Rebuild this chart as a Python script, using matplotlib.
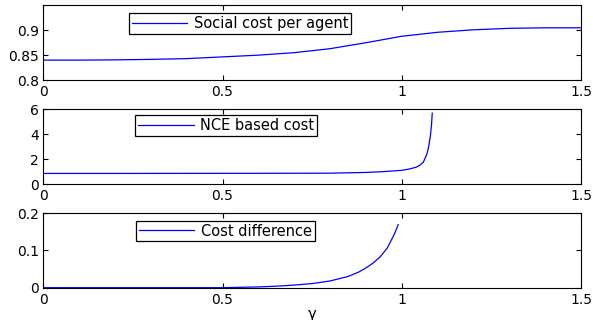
import matplotlib
matplotlib.use("Agg")
import matplotlib.pyplot as plt

# values
gamma_social = [0.0, 0.1, 0.2, 0.3, 0.4, 0.5, 0.6, 0.7, 0.8, 0.9, 1.0, 1.1, 1.2, 1.3, 1.4, 1.5]
social_cost = [0.840, 0.840, 0.8405, 0.8415, 0.843, 0.8465, 0.850, 0.855, 0.863, 0.875,
               0.888, 0.896, 0.901, 0.904, 0.905, 0.905]

gamma_nce = [0.0, 0.2, 0.4, 0.6, 0.8, 0.9, 0.95, 1.0, 1.02, 1.04, 1.05, 1.06, 1.07,
             1.075, 1.08, 1.083, 1.085]
nce_cost = [0.85, 0.85, 0.855, 0.86, 0.87, 0.93, 1.0, 1.1, 1.2, 1.35, 1.5, 1.75, 2.4,
            3.0, 3.9, 4.8, 5.7]

gamma_diff = [0.0, 0.5, 0.55, 0.6, 0.65, 0.7, 0.75, 0.8, 0.85, 0.88, 0.9, 0.92, 0.94,
              0.96, 0.98, 0.99]
cost_diff = [0.0, 0.0, 0.001, 0.002, 0.004, 0.007, 0.011, 0.018, 0.03, 0.042, 0.053,
             0.066, 0.083, 0.107, 0.145, 0.169]

x_ticks = [0, 0.5, 1, 1.5]
x_tick_labels = ["0", "0.5", "1", "1.5"]

plt.rcParams['font.family'] = ['DejaVu Sans']
plt.rcParams['font.size'] = 10

fig = plt.figure(figsize=(5.93, 3.2), dpi=100)

panels = [
    (gamma_social, social_cost, "Social cost per agent", (0.8, 0.95),
     [0.8, 0.85, 0.9], ["0.8", "0.85", "0.9"], 0.750, (0.159, 0.893)),
    (gamma_nce, nce_cost, "NCE based cost", (0, 6),
     [0, 2, 4, 6], ["0", "2", "4", "6"], 0.425, (0.171, 0.926)),
    (gamma_diff, cost_diff, "Cost difference", (0, 0.2),
     [0, 0.1, 0.2], ["0", "0.1", "0.2"], 0.101, (0.172, 0.899)),
]

axes = []
for gx, gy, label, ylim, yt, ytl, bottom, leg_pos in panels:
    ax = fig.add_axes([0.073, bottom, 0.9068, 0.233])
    ax.plot(gx, gy, color=(0, 0, 1), lw=0.9, label=label)
    ax.set_xlim(0, 1.5)
    ax.set_ylim(*ylim)
    ax.set_xticks(x_ticks)
    ax.set_xticklabels(x_tick_labels)
    ax.set_yticks(yt)
    ax.set_yticklabels(ytl)
    ax.tick_params(direction='in', length=3.6, width=0.8, top=True, right=True)
    ax.tick_params(axis='x', pad=3.5)
    ax.tick_params(axis='y', pad=3)
    for sp in ax.spines.values():
        sp.set_linewidth(0.8)
    leg = ax.legend(loc='upper left', bbox_to_anchor=leg_pos, borderaxespad=0,
                    fontsize=10.5, borderpad=0.2, handlelength=3.8, handletextpad=0.45,
                    fancybox=False, framealpha=1, edgecolor='black')
    leg.get_frame().set_linewidth(0.9)
    axes.append(ax)

axes[-1].set_xlabel("γ", fontsize=10.5, labelpad=0)

fig.savefig("out.png", dpi=100)
